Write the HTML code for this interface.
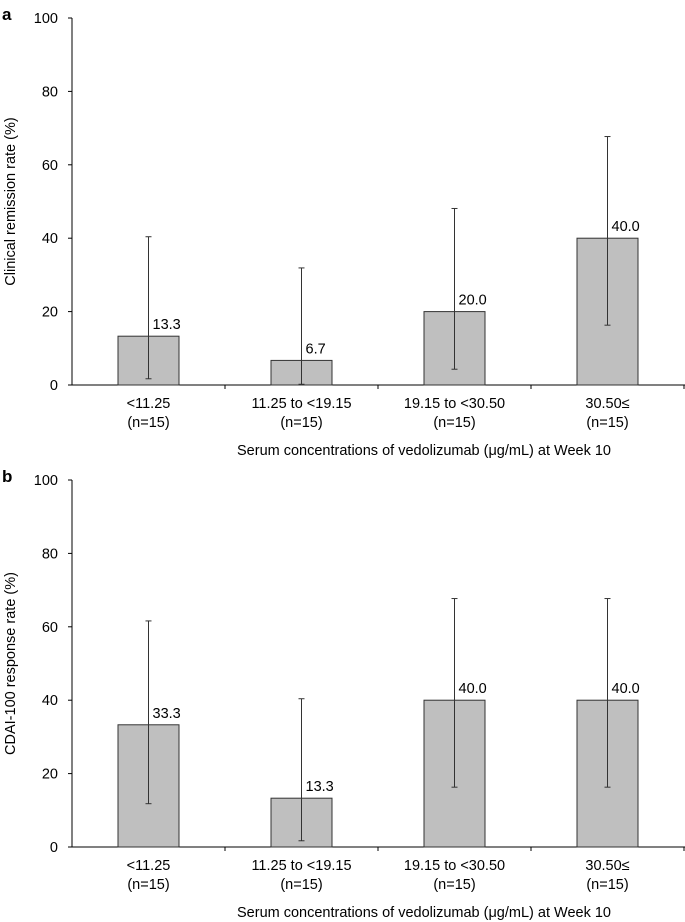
<!DOCTYPE html>
<html><head><meta charset="utf-8"><style>
body{margin:0;background:#fff}
svg{display:block;font-family:"Liberation Sans",Arial,sans-serif}
</style></head><body>
<svg id="c" width="685" height="922"></svg>
<script>
const categories=["<11.25","11.25 to <19.15","19.15 to <30.50","30.50≤"];
const aValues=[13.3,6.7,20.0,40.0];
const aLow=[1.7,0.2,4.3,16.3];
const aHigh=[40.4,31.9,48.1,67.7];
const bValues=[33.3,13.3,40.0,40.0];
const bLow=[11.8,1.7,16.3,16.3];
const bHigh=[61.6,40.4,67.7,67.7];
const yTicks=[0,20,40,60,80,100];
const svg=document.getElementById('c');
const NS='http://www.w3.org/2000/svg';
function mk(tag,attrs,parent,name){const e=document.createElementNS(NS,tag);for(const k in attrs)e.setAttribute(k,attrs[k]);


(parent||svg).appendChild(e);return e;}
function panel(letter,top,y0,yLabel,vals,lo,hi){
  const g=mk('g',{},svg,'panel-'+letter);
  const x0=72,cw=153,pxu=(y0-top)/100;
  const y=v=>y0-v*pxu, xc=i=>x0+cw*(i+0.5);
  const t=mk('text',{x:2,y:top+2,'font-size':17,'font-weight':'bold'},g,'panel-label');t.textContent=letter;
  mk('line',{x1:x0,y1:top,x2:x0,y2:y0,stroke:'#000'},g,'y-axis');
  mk('line',{x1:x0,y1:y0,x2:685,y2:y0,stroke:'#000'},g,'x-axis');
  yTicks.forEach(v=>{mk('line',{x1:x0-4,y1:y(v),x2:x0,y2:y(v),stroke:'#000'},g,'y-tick');
    const tt=mk('text',{x:x0-14,y:y(v)+5,'font-size':14.5,'text-anchor':'end'},g,'y-tick-label');tt.textContent=v;});
  categories.forEach((c,i)=>{
    mk('line',{x1:x0+cw*(i+1),y1:y0,x2:x0+cw*(i+1),y2:y0+4,stroke:'#000'},g,'x-tick');
    const l1=mk('text',{x:xc(i),y:y0+23,'font-size':14.5,'text-anchor':'middle'},g,'category-label');l1.textContent=c;
    const l2=mk('text',{x:xc(i),y:y0+42,'font-size':14.5,'text-anchor':'middle'},g,'category-n');l2.textContent='(n=15)';
    mk('rect',{x:xc(i)-30.5,y:y(vals[i]),width:61,height:y0-y(vals[i]),fill:'#bfbfbf',stroke:'#333','stroke-width':1},g,'bar-'+(i+1));
    mk('line',{x1:xc(i),y1:y(hi[i]),x2:xc(i),y2:y(lo[i]),stroke:'#333'},g,'error-bar');
    mk('line',{x1:xc(i)-3,y1:y(hi[i]),x2:xc(i)+3,y2:y(hi[i]),stroke:'#333'},g,'error-cap-high');
    mk('line',{x1:xc(i)-3,y1:y(lo[i]),x2:xc(i)+3,y2:y(lo[i]),stroke:'#333'},g,'error-cap-low');
    const vl=mk('text',{x:xc(i)+4,y:y(vals[i])-7,'font-size':14.5},g,'value-label');vl.textContent=vals[i].toFixed(1);
  });
  const xt=mk('text',{x:424,y:y0+70,'font-size':14.5,'text-anchor':'middle'},g,'x-axis-title');xt.textContent='Serum concentrations of vedolizumab (μg/mL) at Week 10';
  const yt=mk('text',{x:0,y:0,'font-size':14.5,'text-anchor':'middle',transform:`translate(15,${(top+y0)/2}) rotate(-90)`},g,'y-axis-title');yt.textContent=yLabel;
}
panel('a',18,385,'Clinical remission rate (%)',aValues,aLow,aHigh);
panel('b',480,847,'CDAI-100 response rate (%)',bValues,bLow,bHigh);
</script>
</body></html>
